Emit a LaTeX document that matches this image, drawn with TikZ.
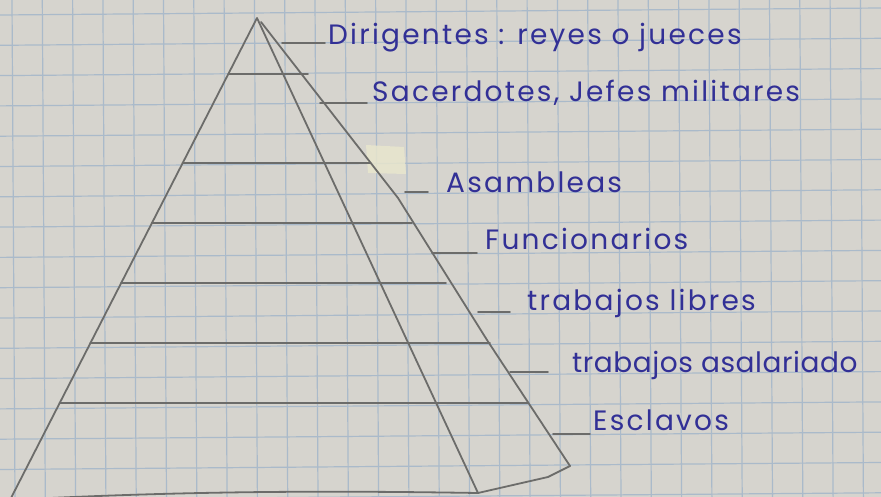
\documentclass[tikz,border=0pt]{standalone}
\usepackage{fontspec}
\setmainfont[LetterSpace=8]{Poppins}
\usetikzlibrary{calc}
\definecolor{papier}{RGB}{214,212,206}
\definecolor{rasterfarbe}{RGB}{170,186,202}
\definecolor{bleistift}{RGB}{108,108,106}
\definecolor{tinte}{RGB}{50,48,150}
\definecolor{klebeband}{RGB}{232,230,205}

\begin{document}
\begin{tikzpicture}[x=1pt, y=-1pt,
		raster/.style={color=rasterfarbe, line width=1.2pt},
		strich/.style={color=bleistift, line width=1.8pt, line cap=round, line join=round},
		schrift/.style={text=tinte, font=\fontsize{28}{30}\selectfont, anchor=base west, inner sep=2pt}]
		% Papier
		\useasboundingbox (0,0) rectangle (881,497);
		\fill[papier] (0,0) rectangle (881,497);
		% Karos zeichnen
		\foreach \k in {0,...,16} \draw[raster] (0,{15+30.3*\k}) -- (881,{8+30.3*\k});
		\foreach \k in {0,...,28} \draw[raster] ({12+30.3*\k},0) -- ({15+30.3*\k},497);
		% Klebestreifen
		\fill[klebeband, opacity=.85] (366,145) -- (404,147) -- (406,174) -- (368,173) -- cycle;
		% Pyramide
		\coordinate (spitze) at (257,18);
		\coordinate (kante) at (261,22);
		\coordinate (links) at (10,500);
		\coordinate (vorne) at (478,493);
		\coordinate (hinten) at (570,466);
		\draw[strich] (links) -- (spitze) -- (vorne);
		\draw[strich] (kante) -- (398,198) -- (487,340) -- (hinten);
		\draw[strich] (links) .. controls (200,490) and (350,491) .. (vorne) -- (548,477) -- (hinten);
		% Schichten
		\foreach \y/\r in {74/308, 163/370, 223/412, 283/446, 343/490, 403/528}
			\draw[strich] ({257-0.513*(\y-18)},\y) -- (\r,\y);
		% Beschriftung
		\node[schrift] (dir) at (326,45) {Dirigentes : reyes o jueces};
		\node[schrift] (sac) at (370,102) {Sacerdotes, Jefes militares};
		\node[schrift] (asam) at (444,193) {Asambleas};
		\node[schrift] (func) at (483,250) {Funcionarios};
		\node[schrift] (libres) at (525,310) {trabajos libres};
		\node[schrift] (asal) at (570,372) {\addfontfeature{LetterSpace=2}trabajos asalariado};
		\node[schrift] (escl) at (591,430) {Esclavos};
		\foreach \n/\x/\y/\g in {dir/282/43/1, sac/320/103/3, asam/405/192/16, func/432/253/6,
				libres/478/312/15, asal/510/372/22, escl/553/434/1} {
			\coordinate (s-\n) at (\x,\y);
			\draw[strich, shorten >=\g pt] (s-\n) -- (s-\n -| \n.base west);
		}
	\end{tikzpicture}
\end{document}
